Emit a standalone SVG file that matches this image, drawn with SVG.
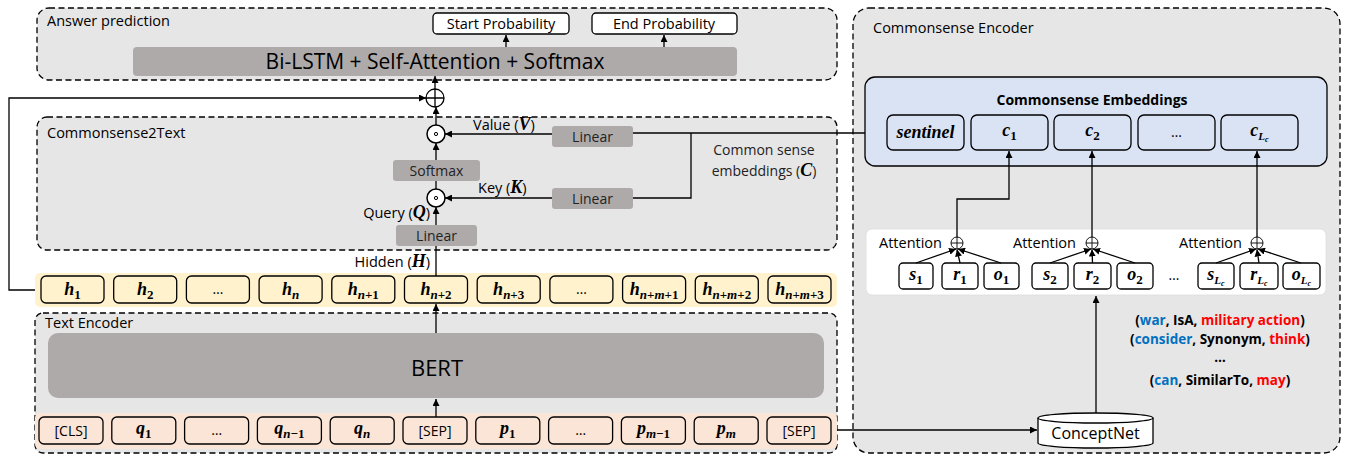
<svg xmlns="http://www.w3.org/2000/svg" width="1348" height="456" viewBox="0 0 1348 456">
<defs>
<marker id="arr" viewBox="0 0 10 10" refX="10" refY="5" markerWidth="7" markerHeight="7" markerUnits="userSpaceOnUse" orient="auto">
<path d="M0,0 L10,5 L0,10 z" fill="#000"/>
</marker>
</defs>
<style>
.panel{fill:#E7E6E6;stroke:#000;stroke-width:1.3;stroke-dasharray:6,3.5}
.bar{fill:#AEAAAA}
.lin{fill:#AEAAAA;}
.box{fill:none;stroke:#000;stroke-width:1.3}
.wbox{fill:#fff;stroke:#000;stroke-width:1.3}
.conn{fill:none;stroke:#000;stroke-width:1.3}
.arw{fill:none;stroke:#000;stroke-width:1.3;marker-end:url(#arr)}
.lbl{font-family:"Open Sans","Noto Sans",sans-serif;font-size:14.5px;fill:#000}
.ltx{font-family:"Open Sans","Noto Sans",sans-serif;font-size:14px;fill:#222}
.m{font-family:"Liberation Serif","DejaVu Serif",serif;font-weight:bold;font-style:italic;font-size:18px;fill:#000}
.s{font-size:13px}
.su{font-style:normal}
.tok{font-family:"Open Sans","Noto Sans",sans-serif;font-size:14px;fill:#000}
.tri{font-family:"Open Sans","Noto Sans",sans-serif;font-size:13.5px;font-weight:bold;fill:#000}
.b{fill:#0070C0}
.r{fill:#FF0000}
</style>

<!-- Panels -->
<g id="answer-prediction">
<rect class="panel" x="37" y="8" width="800" height="72" rx="12"/>
<text class="lbl" x="47" y="26">Answer prediction</text>
<rect class="bar" x="133" y="47" width="604" height="29" rx="4"/>
<text x="435" y="69" text-anchor="middle" font-family="'Open Sans','Noto Sans',sans-serif" font-size="21">Bi-LSTM + Self-Attention + Softmax</text>
<g id="start-prob">
<rect class="wbox" x="433" y="13" width="136" height="21" rx="4"/>
<text class="lbl" x="501" y="29" text-anchor="middle" font-size="15">Start Probability</text>
</g>
<g id="end-prob">
<rect class="wbox" x="592" y="13" width="145" height="21" rx="4"/>
<text class="lbl" x="664" y="29" text-anchor="middle" font-size="15">End Probability</text>
</g>
</g>

<g id="commonsense-encoder">
<rect class="panel" x="853" y="8" width="487" height="445" rx="16"/>
<text class="lbl" x="873" y="33">Commonsense Encoder</text>
</g>

<g id="commonsense2text">
<rect class="panel" x="37" y="117" width="800" height="133" rx="10"/>
<text class="lbl" x="47" y="138">Commonsense2Text</text>
<text class="ltx" x="764" y="155" text-anchor="middle" font-size="14.5">Common sense</text>
<text class="ltx" x="764" y="176" text-anchor="middle" font-size="14.5">embeddings (<tspan class="m" font-size="15.5">C</tspan>)</text>
</g>

<g id="text-encoder">
<rect class="panel" x="35" y="313" width="802" height="140" rx="8"/>
<text class="lbl" x="45" y="328">Text Encoder</text>
<rect class="bar" x="48" y="333" width="776" height="65" rx="10"/>
<text x="437" y="376" text-anchor="middle" font-family="'Open Sans','Noto Sans',sans-serif" font-size="22">BERT</text>
</g>

<!-- hidden row -->
<g id="hidden-row">
<rect x="35" y="273" width="802" height="34" rx="5" fill="#FFF2CC"/>
<rect class="box" x="41" y="276" width="63" height="27" rx="5"/>
<text class="m" x="72.5" y="295" text-anchor="middle">h<tspan class="s su" dy="4">1</tspan></text>
<rect class="box" x="113.7" y="276" width="63" height="27" rx="5"/>
<text class="m" x="145.2" y="295" text-anchor="middle">h<tspan class="s su" dy="4">2</tspan></text>
<rect class="box" x="186.4" y="276" width="63" height="27" rx="5"/>
<text class="tok" x="217.9" y="294" text-anchor="middle">…</text>
<rect class="box" x="259.1" y="276" width="63" height="27" rx="5"/>
<text class="m" x="290.6" y="295" text-anchor="middle">h<tspan class="s" dy="4">n</tspan></text>
<rect class="box" x="331.8" y="276" width="63" height="27" rx="5"/>
<text class="m" x="363.3" y="295" text-anchor="middle">h<tspan class="s" dy="4">n<tspan class="su">+1</tspan></tspan></text>
<rect class="box" x="404.5" y="276" width="63" height="27" rx="5"/>
<text class="m" x="436" y="295" text-anchor="middle">h<tspan class="s" dy="4">n<tspan class="su">+2</tspan></tspan></text>
<rect class="box" x="477.2" y="276" width="63" height="27" rx="5"/>
<text class="m" x="508.7" y="295" text-anchor="middle">h<tspan class="s" dy="4">n<tspan class="su">+3</tspan></tspan></text>
<rect class="box" x="549.9" y="276" width="63" height="27" rx="5"/>
<text class="tok" x="581.4" y="294" text-anchor="middle">…</text>
<rect class="box" x="622.6" y="276" width="63" height="27" rx="5"/>
<text class="m" x="654.1" y="295" text-anchor="middle">h<tspan class="s" dy="4">n<tspan class="su">+</tspan>m<tspan class="su">+1</tspan></tspan></text>
<rect class="box" x="695.3" y="276" width="63" height="27" rx="5"/>
<text class="m" x="726.8" y="295" text-anchor="middle">h<tspan class="s" dy="4">n<tspan class="su">+</tspan>m<tspan class="su">+2</tspan></tspan></text>
<rect class="box" x="768" y="276" width="63" height="27" rx="5"/>
<text class="m" x="799.5" y="295" text-anchor="middle">h<tspan class="s" dy="4">n<tspan class="su">+</tspan>m<tspan class="su">+3</tspan></tspan></text>
</g>

<!-- input row -->
<g id="input-row">
<rect x="35" y="413" width="802" height="36" rx="5" fill="#FBE5D6"/>
<rect class="box" x="39" y="417" width="64" height="27" rx="5"/>
<text class="tok" x="71" y="436" text-anchor="middle">[CLS]</text>
<rect class="box" x="111.8" y="417" width="64" height="27" rx="5"/>
<text class="m" x="143.8" y="434" text-anchor="middle">q<tspan class="s su" dy="4">1</tspan></text>
<rect class="box" x="184.6" y="417" width="64" height="27" rx="5"/>
<text class="tok" x="216.6" y="435" text-anchor="middle">…</text>
<rect class="box" x="257.4" y="417" width="64" height="27" rx="5"/>
<text class="m" x="289.4" y="434" text-anchor="middle">q<tspan class="s" dy="4">n<tspan class="su">−1</tspan></tspan></text>
<rect class="box" x="330.2" y="417" width="64" height="27" rx="5"/>
<text class="m" x="362.2" y="434" text-anchor="middle">q<tspan class="s" dy="4">n</tspan></text>
<rect class="box" x="403" y="417" width="64" height="27" rx="5"/>
<text class="tok" x="435" y="436" text-anchor="middle">[SEP]</text>
<rect class="box" x="475.8" y="417" width="64" height="27" rx="5"/>
<text class="m" x="507.8" y="434" text-anchor="middle">p<tspan class="s su" dy="4">1</tspan></text>
<rect class="box" x="548.6" y="417" width="64" height="27" rx="5"/>
<text class="tok" x="580.6" y="435" text-anchor="middle">…</text>
<rect class="box" x="621.4" y="417" width="64" height="27" rx="5"/>
<text class="m" x="653.4" y="434" text-anchor="middle">p<tspan class="s" dy="4">m<tspan class="su">−1</tspan></tspan></text>
<rect class="box" x="694.2" y="417" width="64" height="27" rx="5"/>
<text class="m" x="726.2" y="434" text-anchor="middle">p<tspan class="s" dy="4">m</tspan></text>
<rect class="box" x="767" y="417" width="64" height="27" rx="5"/>
<text class="tok" x="799" y="436" text-anchor="middle">[SEP]</text>
</g>

<!-- commonsense2text inner nodes -->
<g id="plus-top">
<circle cx="435" cy="98" r="9" fill="#fff" stroke="#000" stroke-width="1.3"/>
<path d="M426,98 H444 M435,89 V107" stroke="#000" stroke-width="1.3"/>
</g>
<g id="dot-value">
<circle cx="436" cy="134" r="9" fill="#fff" stroke="#000" stroke-width="1.5"/>
<circle cx="436" cy="134" r="1.6" fill="none" stroke="#000" stroke-width="1"/>
</g>
<g id="dot-key">
<circle cx="436" cy="198" r="9" fill="#fff" stroke="#000" stroke-width="1.5"/>
<circle cx="436" cy="198" r="1.6" fill="none" stroke="#000" stroke-width="1"/>
</g>
<g id="softmax">
<rect class="lin" x="393" y="160" width="87" height="21" rx="3"/>
<text class="ltx" x="436.5" y="175.5" text-anchor="middle">Softmax</text>
</g>
<g id="linear-query">
<rect class="lin" x="396" y="225" width="81" height="21" rx="3"/>
<text class="ltx" x="436.5" y="240.5" text-anchor="middle">Linear</text>
</g>
<g id="linear-value">
<rect class="lin" x="552" y="126" width="81" height="21" rx="3"/>
<text class="ltx" x="592.5" y="141.5" text-anchor="middle">Linear</text>
</g>
<g id="linear-key">
<rect class="lin" x="552" y="188" width="81" height="21" rx="3"/>
<text class="ltx" x="592.5" y="203.5" text-anchor="middle">Linear</text>
</g>
<text class="lbl" x="473" y="130">Value (<tspan class="m" font-size="15.5">V</tspan>)</text>
<text class="lbl" x="478" y="193">Key (<tspan class="m" font-size="15.5">K</tspan>)</text>
<text class="lbl" x="430" y="218" text-anchor="end">Query (<tspan class="m" font-size="15.5">Q</tspan>)</text>
<text class="lbl" x="430" y="267" text-anchor="end">Hidden (<tspan class="m" font-size="15.5">H</tspan>)</text>

<!-- commonsense embeddings -->
<g id="commonsense-embeddings">
<rect x="865" y="77" width="462" height="89" rx="10" fill="#DAE3F3" stroke="#000" stroke-width="1.3"/>
<text x="1092" y="105" text-anchor="middle" font-family="'Open Sans','Noto Sans',sans-serif" font-size="14" font-weight="bold">Commonsense Embeddings</text>
<rect class="box" x="887" y="115" width="77" height="35" rx="6"/>
<text class="m" x="925.5" y="138" text-anchor="middle" font-size="17.5">sentinel</text>
<rect class="box" x="971" y="115" width="77" height="35" rx="6"/>
<text class="m" x="1009.5" y="136" text-anchor="middle">c<tspan class="s su" dy="4">1</tspan></text>
<rect class="box" x="1054" y="115" width="77" height="35" rx="6"/>
<text class="m" x="1092.5" y="136" text-anchor="middle">c<tspan class="s su" dy="4">2</tspan></text>
<rect class="box" x="1138" y="115" width="77" height="35" rx="6"/>
<text class="tok" x="1176.5" y="137" text-anchor="middle">…</text>
<rect class="box" x="1221" y="115" width="77" height="35" rx="6"/>
<text class="m" x="1259.5" y="136" text-anchor="middle">c<tspan font-size="11" dy="4">L<tspan font-size="8" dy="2">c</tspan></tspan></text>
</g>

<!-- attention panel -->
<g id="attention-panel">
<rect x="866" y="229" width="460" height="66" rx="6" fill="#fff" stroke="#ddd" stroke-width="0.8"/>
<text class="lbl" x="879" y="248" font-size="13.5">Attention</text>
<text class="lbl" x="1013" y="248" font-size="13.5">Attention</text>
<text class="lbl" x="1179" y="248" font-size="13.5">Attention</text>
<g id="att-plus-1"><circle cx="957" cy="243" r="6" fill="#fff" stroke="#000" stroke-width="0.9"/><path d="M951,243 H963 M957,237 V249" stroke="#000" stroke-width="0.9"/></g>
<g id="att-plus-2"><circle cx="1092" cy="243" r="6" fill="#fff" stroke="#000" stroke-width="0.9"/><path d="M1086,243 H1098 M1092,237 V249" stroke="#000" stroke-width="0.9"/></g>
<g id="att-plus-3"><circle cx="1257" cy="243" r="6" fill="#fff" stroke="#000" stroke-width="0.9"/><path d="M1251,243 H1263 M1257,237 V249" stroke="#000" stroke-width="0.9"/></g>
<rect class="box" x="899" y="263" width="34" height="26" rx="4"/>
<text class="m" x="916" y="280" text-anchor="middle" font-size="17">s<tspan class="s su" dy="4">1</tspan></text>
<rect class="box" x="942" y="263" width="36" height="26" rx="4"/>
<text class="m" x="960" y="280" text-anchor="middle" font-size="17">r<tspan class="s su" dy="4">1</tspan></text>
<rect class="box" x="984" y="263" width="35" height="26" rx="4"/>
<text class="m" x="1001.5" y="280" text-anchor="middle" font-size="17">o<tspan class="s su" dy="4">1</tspan></text>
<rect class="box" x="1032" y="263" width="36" height="26" rx="4"/>
<text class="m" x="1050" y="280" text-anchor="middle" font-size="17">s<tspan class="s su" dy="4">2</tspan></text>
<rect class="box" x="1074" y="263" width="37" height="26" rx="4"/>
<text class="m" x="1092.5" y="280" text-anchor="middle" font-size="17">r<tspan class="s su" dy="4">2</tspan></text>
<rect class="box" x="1117" y="263" width="36" height="26" rx="4"/>
<text class="m" x="1135" y="280" text-anchor="middle" font-size="17">o<tspan class="s su" dy="4">2</tspan></text>
<text class="tok" x="1174" y="280" text-anchor="middle">…</text>
<rect class="box" x="1198" y="263" width="36" height="26" rx="4"/>
<text class="m" x="1216" y="280" text-anchor="middle" font-size="17">s<tspan font-size="11" dy="4">L<tspan font-size="8" dy="2">c</tspan></tspan></text>
<rect class="box" x="1240" y="263" width="38" height="26" rx="4"/>
<text class="m" x="1259" y="280" text-anchor="middle" font-size="17">r<tspan font-size="11" dy="4">L<tspan font-size="8" dy="2">c</tspan></tspan></text>
<rect class="box" x="1283" y="263" width="37" height="26" rx="4"/>
<text class="m" x="1301.5" y="280" text-anchor="middle" font-size="17">o<tspan font-size="11" dy="4">L<tspan font-size="8" dy="2">c</tspan></tspan></text>
</g>

<!-- triples -->
<g id="triples">
<text class="tri" x="1220" y="325" text-anchor="middle">(<tspan class="b">war</tspan>, IsA, <tspan class="r">military action</tspan>)</text>
<text class="tri" x="1220" y="344" text-anchor="middle">(<tspan class="b">consider</tspan>, Synonym, <tspan class="r">think</tspan>)</text>
<text class="tri" x="1220" y="362" text-anchor="middle">…</text>
<text class="tri" x="1220" y="385" text-anchor="middle">(<tspan class="b">can</tspan>, SimilarTo, <tspan class="r">may</tspan>)</text>
</g>

<!-- conceptnet -->
<g id="conceptnet">
<path d="M1038,418 V443 A57.5,5 0 0 0 1153,443 V418" fill="#fff" stroke="#000" stroke-width="1.3"/>
<ellipse cx="1095.5" cy="418" rx="57.5" ry="5" fill="#fff" stroke="#000" stroke-width="1.3"/>
<text x="1095.5" y="439" text-anchor="middle" font-family="'Open Sans','Noto Sans',sans-serif" font-size="16">ConceptNet</text>
</g>

<!-- connectors -->
<g id="connectors">
<line class="arw" x1="506" y1="47" x2="506" y2="35"/>
<line class="arw" x1="664" y1="47" x2="664" y2="35"/>
<line class="arw" x1="435" y1="89" x2="435" y2="76"/>
<polyline class="arw" points="35,290 9,290 9,98 426,98"/>
<line class="arw" x1="436" y1="125" x2="436" y2="107"/>
<line class="arw" x1="436" y1="160" x2="436" y2="143"/>
<line class="conn" x1="436" y1="181" x2="436" y2="189"/>
<line class="arw" x1="436" y1="225" x2="436" y2="207"/>
<line class="conn" x1="436" y1="276" x2="436" y2="246"/>
<line class="arw" x1="552" y1="134" x2="445" y2="134"/>
<line class="arw" x1="552" y1="198" x2="445" y2="198"/>
<line class="conn" x1="865" y1="133" x2="633" y2="133"/>
<polyline class="conn" points="691,133 691,198 633,198"/>
<line class="arw" x1="436" y1="333" x2="436" y2="304"/>
<line class="arw" x1="436" y1="417" x2="436" y2="399"/>
<line class="arw" x1="837" y1="430" x2="1037" y2="430"/>
<line class="arw" x1="1096" y1="413" x2="1096" y2="296"/>
<polyline class="arw" points="957,237 957,199 1009,199 1009,151"/>
<line class="arw" x1="1092" y1="237" x2="1092" y2="151"/>
<line class="arw" x1="1257" y1="237" x2="1257" y2="151"/>
<line class="arw" x1="916" y1="263" x2="956" y2="249"/>
<line class="arw" x1="960" y1="263" x2="957" y2="249.5"/>
<line class="arw" x1="1001" y1="263" x2="958" y2="249"/>
<line class="arw" x1="1050" y1="263" x2="1091" y2="249"/>
<line class="arw" x1="1092.5" y1="263" x2="1092" y2="249.5"/>
<line class="arw" x1="1135" y1="263" x2="1093" y2="249"/>
<line class="arw" x1="1216" y1="263" x2="1256" y2="249"/>
<line class="arw" x1="1259" y1="263" x2="1257" y2="249.5"/>
<line class="arw" x1="1301" y1="263" x2="1258" y2="249"/>
</g>
</svg>
